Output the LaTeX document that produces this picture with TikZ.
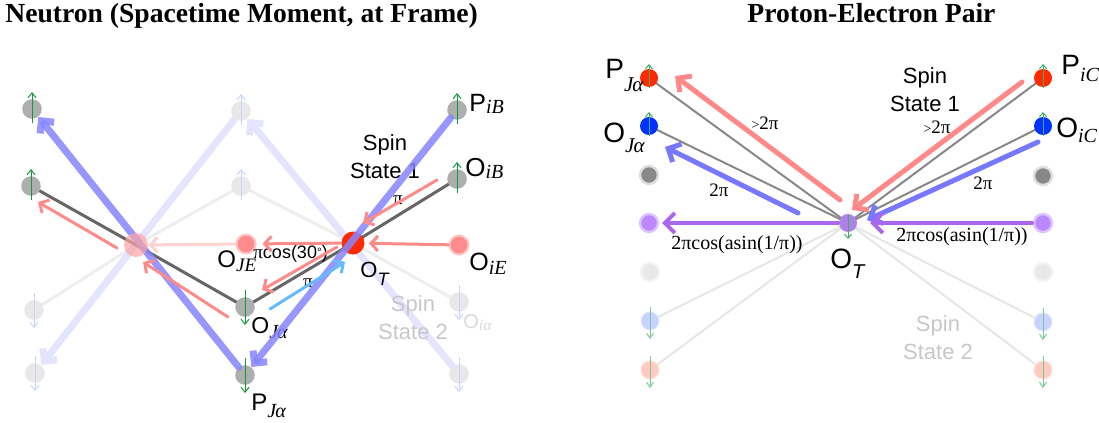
\documentclass[tikz,border=0pt]{standalone}
\usepackage{fontspec}
\setmainfont{Liberation Sans}
\newfontfamily\tim{Liberation Serif}
\usetikzlibrary{arrows.meta}
\pgfdeclarelayer{back}
\pgfdeclarelayer{front}
\pgfsetlayers{back,main,front}
\newcommand{\lab}[5]{{\fontsize{#1}{#1}\selectfont #2}\raisebox{-#3}{\fontsize{#4}{#4}\selectfont #5}}
\newcommand{\spinu}[2]{\draw[#1] ([yshift=-7pt]#2.center) -- ([yshift=8.5pt]#2.center);}
\newcommand{\spind}[2]{\draw[#1] ([yshift=8.5pt]#2.center) -- ([yshift=-9pt]#2.center);}
\definecolor{grayc}{HTML}{AEAEAE}
\definecolor{faintc}{HTML}{E8E8E8}
\definecolor{spg}{HTML}{11993A}
\definecolor{fblue}{HTML}{C8D4FF}
\definecolor{bluethick}{HTML}{8585FF}
\definecolor{bluefaint}{HTML}{E4E4FF}
\definecolor{pinkA}{HTML}{FF8A8A}
\definecolor{pinkF}{HTML}{FFD2D2}
\definecolor{redT}{HTML}{FF2A00}
\definecolor{pinkC}{HTML}{FF8C8C}
\definecolor{dgray}{HTML}{666666}
\definecolor{lgray}{HTML}{EEEEEE}
\definecolor{skyA}{HTML}{66BBFF}
\definecolor{blueR}{HTML}{0033FF}
\definecolor{grayR}{HTML}{888888}
\definecolor{purR}{HTML}{BB88FF}
\definecolor{redAR}{HTML}{FF8888}
\definecolor{blueAR}{HTML}{7777FF}
\definecolor{purAR}{HTML}{AA66EE}
\definecolor{flineR}{HTML}{E6E6E6}
\begin{document}
\begin{tikzpicture}[x=0.5pt,y=-0.5pt,
  circ/.style={circle,inner sep=0pt,minimum size=9pt},
  gcirc/.style={circ,fill=grayc,minimum size=9.8pt},
  fcirc/.style={circ,fill=faintc,minimum size=9.8pt},
  lbl/.style={inner sep=0pt,anchor=base west},
  thickblue/.style={line width=3.5pt,line cap=round,-{Straight Barb[length=4.5pt,width=9pt]}},
  pinkarrow/.style={pinkA,line width=1.5pt,line cap=round,-{Straight Barb[length=3.5pt,width=7.5pt]}},
  greenup/.style={spg,line width=0.5pt,-{Straight Barb[length=2.5pt,width=4pt]}},
  faintup/.style={fblue,line width=0.5pt,-{Straight Barb[length=2.5pt,width=4pt]}},
  rarrow/.style={line width=2.5pt,line cap=round,-{Straight Barb[length=5pt,width=10pt]}},
  pilabel/.style={inner sep=0pt,font=\tim\fontsize{9.5}{10}\selectfont},
  spinlabel/.style={inner sep=0pt,align=center,font=\fontsize{11}{14}\selectfont}]
\useasboundingbox (0,0) rectangle (1099,423);
% titles
\node[lbl,font=\tim\bfseries\fontsize{13.8}{16}\selectfont] (t1) at (5,22) {Neutron (Spacetime Moment, at Frame)};
\node[lbl,font=\tim\bfseries\fontsize{13.8}{16}\selectfont] (t2) at (747,22) {Proton-Electron Pair};
% ===== left panel nodes =====
\node[gcirc] (L1) at (32,109) {};
\node[gcirc] (L2) at (31,186) {};
\node[fcirc] (M1) at (241,111) {};
\node[fcirc] (M2) at (241,186) {};
\node[gcirc] (PiB) at (457,110) {};
\node[gcirc] (OiB) at (457,179) {};
\node[circ,fill=pinkC,draw=pinkC!50,line width=1pt,minimum size=9.5pt] (OJE) at (246,244) {};
\node[circ,fill=redT,minimum size=11.5pt] (OT) at (353,243) {};
\node[circ,fill=pinkC,draw=pinkC!50,line width=1pt,minimum size=9.5pt] (OiE) at (459,245) {};
\node[gcirc] (OJa) at (245,307) {};
\node[gcirc] (PJa) at (245,375) {};
\node[fcirc] (B1) at (34,310) {};
\node[fcirc] (B2) at (35,373) {};
\node[fcirc] (Oia) at (459,302) {};
\node[fcirc] (B3) at (459,374) {};
\coordinate (C) at (136,245);
% free ends
\coordinate (a1s) at (437,180); \coordinate (a1e) at (363,223);
\coordinate (a2s) at (337,247); \coordinate (a2e) at (262,290);
\coordinate (a3s) at (228,317); \coordinate (a3e) at (143,262);
\coordinate (a4s) at (117,248); \coordinate (a4e) at (38,202);
\coordinate (s1s) at (270,309); \coordinate (s1e) at (345,262);
\begin{pgfonlayer}{back}
\draw[lgray,line width=1.5pt,line join=round] (B1.center) -- (C) -- (M2.center) -- (OT.center) -- (Oia.center);
\draw[bluefaint,line width=3.5pt,line cap=round,-{Straight Barb[length=4.5pt,width=9pt]}] (B3) -- (M1);
\draw[bluefaint,line width=3.5pt,line cap=round,-{Straight Barb[length=4.5pt,width=9pt]}] (M1) -- (B2);
\draw[dgray,line width=1.5pt,line join=round] (OiB.center) -- (OT.center) -- (OJa.center) -- (C) -- (L2.center);
\end{pgfonlayer}
\begin{pgfonlayer}{front}
\draw[thickblue,bluethick,opacity=0.85] (PiB) -- (PJa);
\draw[thickblue,bluethick,opacity=0.85] (PJa) -- (L1);
\node[circ,fill=pinkC!80,opacity=0.7,minimum size=12pt] (Cn) at (C) {};
\draw[pinkarrow,pinkF] (OJE) -- (Cn);
\draw[pinkarrow,shorten >=2pt] (OiE) -- (OT);
\draw[pinkarrow,shorten >=3pt] (OT) -- (OJE);
\draw[pinkarrow] (a1s) -- (a1e);
\draw[pinkarrow] (a2s) -- (a2e);
\draw[pinkarrow] (a3s) -- (a3e);
\draw[pinkarrow] (a4s) -- (a4e);
\draw[skyA,line width=1.5pt,line cap=round,-{Straight Barb[length=3.5pt,width=7.5pt]}] (s1s) -- (s1e);
\spinu{greenup}{L1}
\spinu{greenup}{L2}
\spinu{greenup}{PiB}
\spinu{greenup}{OiB}
\spind{greenup}{OJa}
\spind{greenup}{PJa}
\spinu{faintup}{M1}
\spinu{faintup}{M2}
\spind{faintup}{B1}
\spind{faintup}{B2}
\spind{faintup}{Oia}
\spind{faintup}{B3}
\end{pgfonlayer}
% left labels
\node[lbl] (lPiB) at (469,112) {\lab{12.5}{P}{1pt}{10}{\tim\itshape iB}};
\node[lbl] (lOiB) at (465,176) {\lab{13}{O}{1pt}{10}{\tim\itshape iB}};
\node[lbl] (lOT) at (360,277) {\lab{11}{O}{4pt}{9}{\itshape T}};
\node[lbl] (lOJE) at (217,267) {\lab{12}{O}{2pt}{9.5}{\tim\itshape JE}};
\node[lbl] (lOJa) at (251,333) {\lab{11.5}{O}{2.5pt}{10}{\tim\itshape J\kern-0.5pt α}};
\node[lbl] (lPJa) at (251,410) {\lab{12}{P}{3.5pt}{10}{\tim\itshape J\kern-0.5pt α}};
\node[lbl] (lOiE) at (469,270) {\lab{12.5}{O}{2pt}{10}{\tim\itshape iE}};
\node[lbl,text=black!15] (lOia) at (463,328) {\lab{10}{O}{1pt}{8}{\tim\itshape iα}};
\node[lbl] (lcos) at (253,258) {{\tim\fontsize{9.5}{10}\selectfont π}{\fontsize{9}{10}\selectfont cos(30\raisebox{1pt}{\fontsize{6}{6}\selectfont °})}};
\node[pilabel] (lpi1) at (398,200) {π};
\node[pilabel] (lpi2) at (308,283) {π};
\node[spinlabel] (ls1) at (385,157) {Spin\\State 1};
\node[spinlabel,text=black!22] (ls2) at (413,318) {Spin\\State 2};
% ===== right panel =====
\node[circ,fill=redT] (PJa2) at (649,78) {};
\node[circ,fill=blueR] (OJa2) at (649,126) {};
\node[circ,fill=grayR,draw=black!13,line width=1.2pt] (G2) at (649,175) {};
\node[circ,fill=purR,draw=purR!50,line width=1.2pt] (U2) at (649,223) {};
\node[circ,fill=black!9,draw=black!5,line width=1.2pt] (F2) at (650,272) {};
\node[circ,fill=blueR!22,draw=blueR!12,line width=0.5pt] (FB2) at (650,321) {};
\node[circ,fill=redT!25,draw=redT!15,line width=0.5pt] (FR2) at (650,370) {};
\node[circ,fill=redT] (PiC) at (1043,78) {};
\node[circ,fill=blueR] (OiC) at (1043,126) {};
\node[circ,fill=grayR,draw=black!13,line width=1.2pt] (G3) at (1043,176) {};
\node[circ,fill=purR,draw=purR!50,line width=1.2pt] (U3) at (1043,223) {};
\node[circ,fill=black!9,draw=black!5,line width=1.2pt] (F3) at (1043,272) {};
\node[circ,fill=blueR!22,draw=blueR!12,line width=0.5pt] (FB3) at (1043,322) {};
\node[circ,fill=redT!25,draw=redT!15,line width=0.5pt] (FR3) at (1043,370) {};
\node[circ,fill=purR!90!black!95] (OT2) at (848,223) {};
\coordinate (rA1s) at (840,200); \coordinate (rA1e) at (675,76);
\coordinate (rB1s) at (798,213); \coordinate (rB1e) at (665,147);
\coordinate (rP1s) at (838,223); \coordinate (rP1e) at (662,223);
\coordinate (rA2s) at (1022,82); \coordinate (rA2e) at (852,210);
\coordinate (rB2s) at (1038,142); \coordinate (rB2e) at (867,220);
\coordinate (rP2s) at (1032,223); \coordinate (rP2e) at (870,223);
\begin{pgfonlayer}{back}
\foreach \n in {FB2,FR2,FB3,FR3} \draw[flineR,line width=1pt] (OT2.center) -- (\n.center);
\foreach \n in {PJa2,OJa2,PiC,OiC} \draw[grayR,line width=1pt] (OT2.center) -- (\n.center);
\end{pgfonlayer}
\begin{pgfonlayer}{front}
\draw[rarrow,redAR] (rA1s) -- (rA1e);
\draw[rarrow,blueAR] (rB1s) -- (rB1e);
\draw[rarrow,purAR,line width=2pt] (rP1s) -- (rP1e);
\draw[rarrow,redAR] (rA2s) -- (rA2e);
\draw[rarrow,blueAR] (rB2s) -- (rB2e);
\draw[rarrow,purAR,line width=2pt] (rP2s) -- (rP2e);
\draw[spg!80,line width=0.5pt,-{Straight Barb[length=2pt,width=3.5pt]}] ([yshift=-5pt]PJa2.center) -- ([yshift=7pt]PJa2.center);
\draw[spg!80,line width=0.5pt,-{Straight Barb[length=2pt,width=3.5pt]}] ([yshift=-5pt]OJa2.center) -- ([yshift=7pt]OJa2.center);
\draw[spg!80,line width=0.5pt,-{Straight Barb[length=2pt,width=3.5pt]}] ([yshift=-5pt]PiC.center) -- ([yshift=7pt]PiC.center);
\draw[spg!80,line width=0.5pt,-{Straight Barb[length=2pt,width=3.5pt]}] ([yshift=-5pt]OiC.center) -- ([yshift=7pt]OiC.center);
\draw[spg!80,line width=0.5pt,-{Straight Barb[length=2pt,width=3.5pt]}] ([yshift=4pt]OT2.center) -- ([yshift=-8pt]OT2.center);
\foreach \n in {FB2,FR2,FB3,FR3} \draw[spg!55,line width=0.5pt,-{Straight Barb[length=2.5pt,width=3.5pt]}] ([yshift=7pt]\n.center) -- ([yshift=-9pt]\n.center);
\end{pgfonlayer}
% right labels
\node[lbl] (rlPJa) at (605,78) {\lab{14}{P}{6.5pt}{10.5}{\tim\itshape J\kern-0.5pt α}};
\node[lbl] (rlOJa) at (603,142) {\lab{14}{O}{5pt}{10.5}{\tim\itshape J\kern-0.5pt α}};
\node[lbl] (rlPiC) at (1061,75) {\lab{14}{P}{3.5pt}{10}{\tim\itshape iC}};
\node[lbl] (rlOiC) at (1056,137) {\lab{14}{O}{2.5pt}{10}{\tim\itshape iC}};
\node[lbl] (rlOT) at (830,268) {\lab{14}{O}{5pt}{10}{\itshape T}};
\node[spinlabel] (rs1) at (925,90) {Spin\\State 1};
\node[spinlabel,text=black!22] (rs2) at (938,338) {Spin\\State 2};
\node[pilabel] (rg1) at (765,123) {{\fontsize{7}{7}\selectfont >}2π};
\node[pilabel] (rg2) at (937,127) {{\fontsize{7}{7}\selectfont >}2π};
\node[pilabel] (rt1) at (719,190) {2π};
\node[pilabel] (rt2) at (983,183) {2π};
\node[pilabel,font=\tim\fontsize{10}{10}\selectfont] (rc1) at (737,245) {2πcos(asin(1/π))};
\node[pilabel,font=\tim\fontsize{10}{10}\selectfont] (rc2) at (962,237) {2πcos(asin(1/π))};
\end{tikzpicture}
\end{document}
